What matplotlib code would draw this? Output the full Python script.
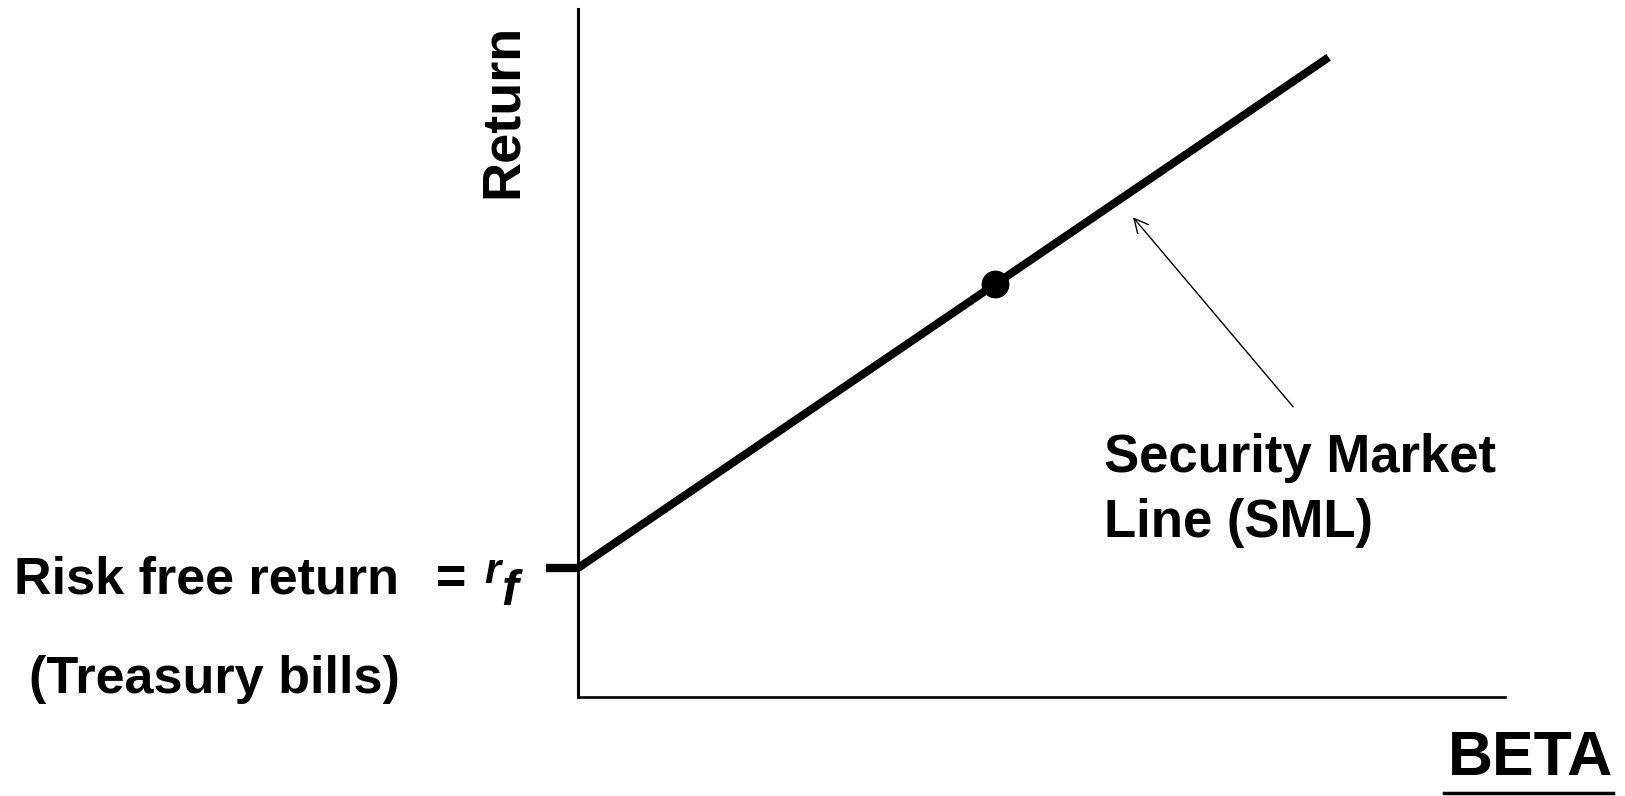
import matplotlib.pyplot as plt
from matplotlib.lines import Line2D

# security market line: beta vs expected return
betas = [0.0, 1.0, 1.8]
returns = [2.0, 6.4, 9.92]
market_beta = 1.0
market_return = 6.4
risk_free = 2.0

W, H = 1625, 796


def fx(px):
    return px / W


def fy(py):
    return 1 - py / H


plt.rcParams['font.family'] = ['Liberation Sans', 'DejaVu Sans']

fig = plt.figure(figsize=(16.25, 7.96), dpi=100)
ax = fig.add_axes([fx(578), fy(697), fx(1505) - fx(578), fy(9) - fy(697)])
ax.set_xlim(0, 2.223)
ax.set_ylim(0, 10.67)

# SML and market portfolio point
ax.plot(betas, returns, color='black', lw=5.8, solid_capstyle='butt', clip_on=False)
ax.plot([market_beta], [market_return], 'o', color='black', markersize=19)

# axes look: only left and bottom lines
for s in ['top', 'right']:
    ax.spines[s].set_visible(False)
ax.spines['left'].set_linewidth(2.2)
ax.spines['bottom'].set_linewidth(1.9)
ax.set_xticks([])
ax.set_yticks([risk_free])
ax.set_yticklabels([''])
ax.tick_params(axis='y', direction='out', length=23, width=6.0, color='black')

# arrow pointing at the line
ax.annotate('', xy=(1.331, 7.44), xytext=(1.715, 4.50),
            arrowprops=dict(arrowstyle='->', color='black', lw=1.0,
                            mutation_scale=25, shrinkA=0, shrinkB=0))

fig.text(fx(1104), fy(472), 'Security Market', fontsize=38, fontweight='bold', va='baseline')
fig.text(fx(1104), fy(537), 'Line (SML)', fontsize=38, fontweight='bold', va='baseline')

fig.text(fx(14), fy(593), 'Risk free return', fontsize=37.5, fontweight='bold', va='baseline')
fig.text(fx(436), fy(593), '=', fontsize=37.5, fontweight='bold', va='baseline')
fig.text(fx(484), fy(583), 'r', fontsize=30, fontweight='bold', style='italic', va='baseline')
fig.text(fx(501), fy(605), 'f', fontsize=36, fontweight='bold', style='italic', va='baseline')
fig.text(fx(29), fy(693), '(Treasury bills)', fontsize=37.5, fontweight='bold', va='baseline')

fig.text(fx(503), fy(111), 'Return', fontsize=39, fontweight='bold', rotation=90,
         ha='center', va='center')

fig.text(fx(1613), fy(775), 'BETA', fontsize=45, fontweight='bold', ha='right', va='baseline')
fig.add_artist(Line2D([fx(1444), fx(1613)], [fy(793), fy(793)], color='black', lw=2.5))

fig.savefig('out.png', dpi=100)
